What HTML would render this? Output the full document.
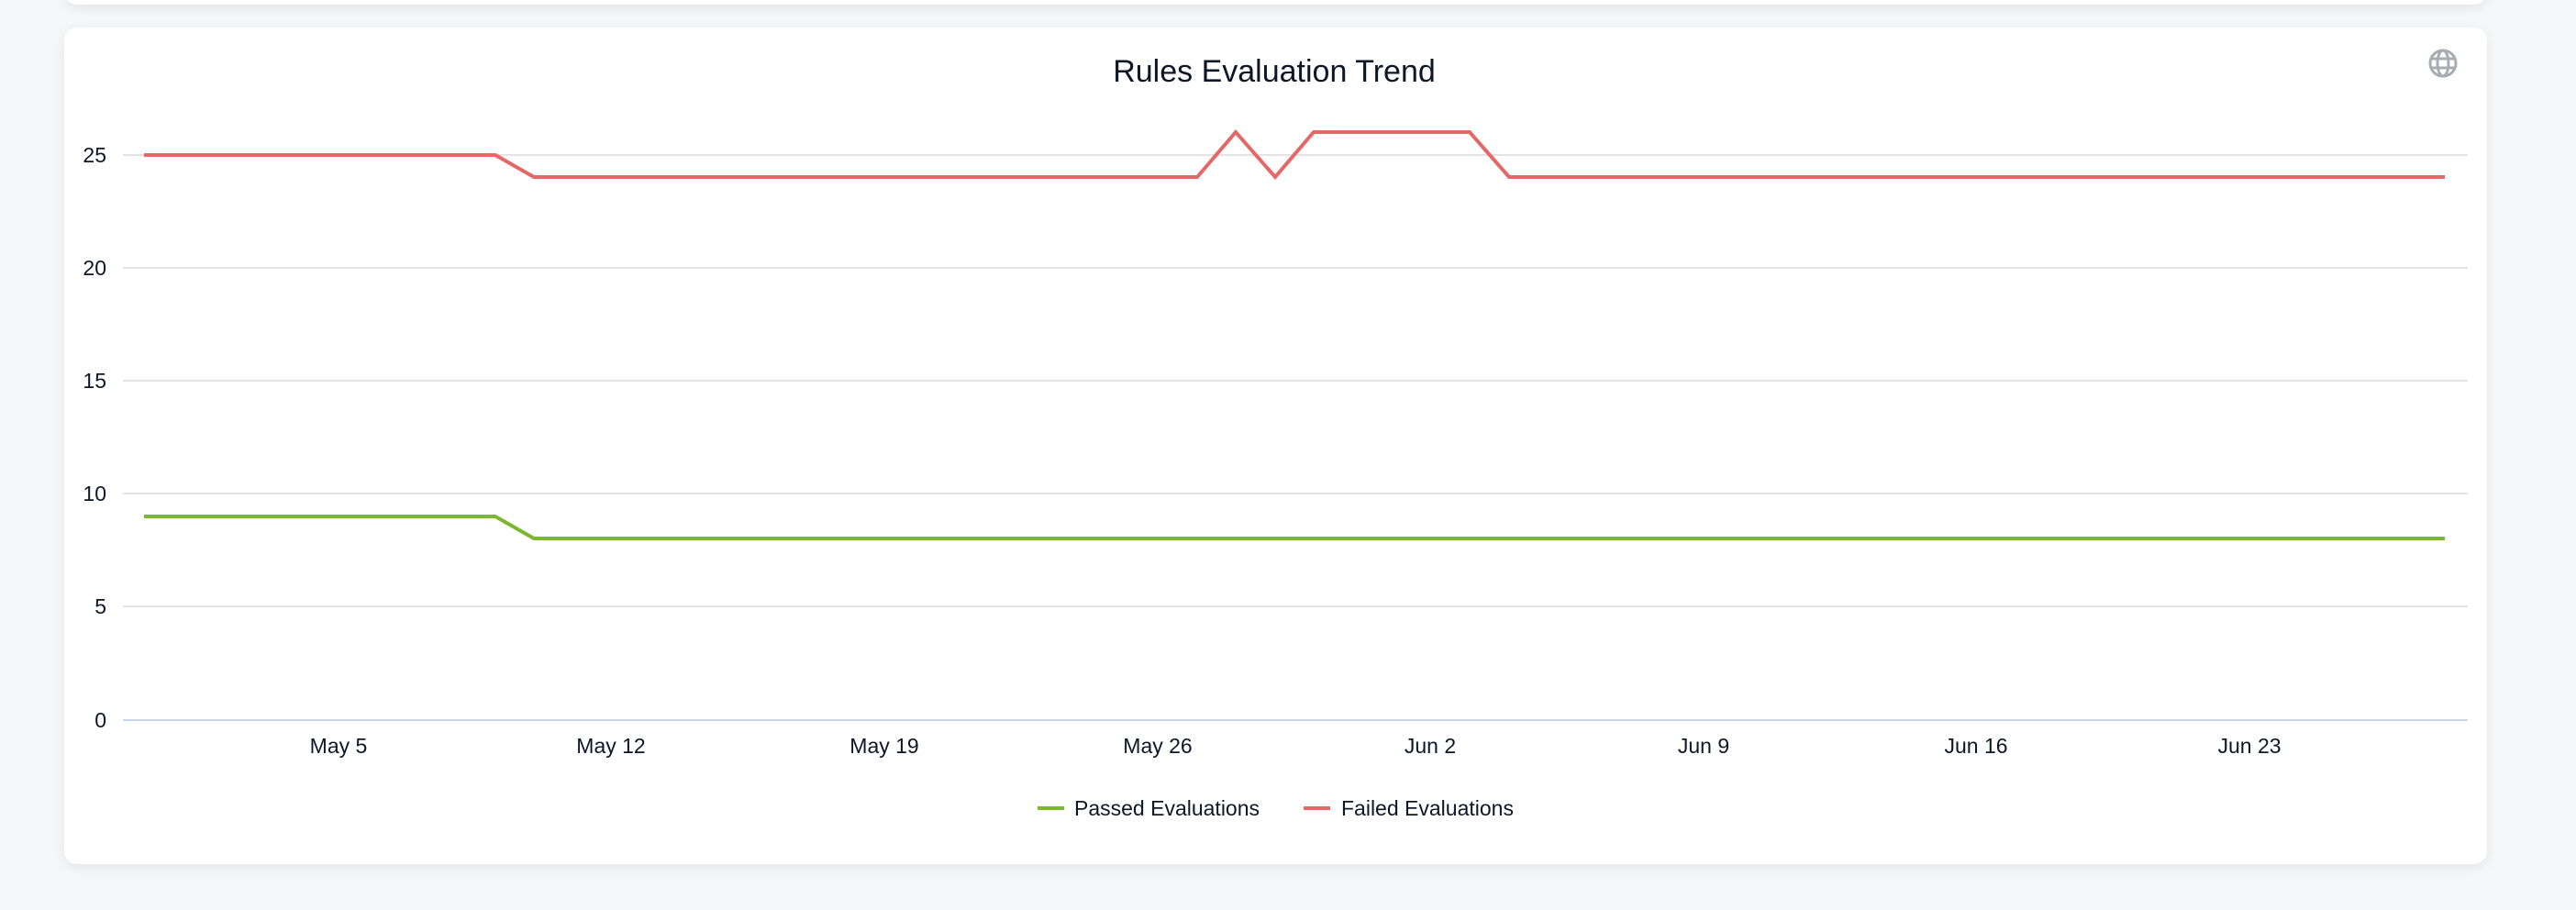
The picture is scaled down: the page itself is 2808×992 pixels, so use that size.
<!DOCTYPE html>
<html><head><meta charset="utf-8"><style>
html,body{margin:0;padding:0;width:2808px;height:992px;background:#f6f7f9;overflow:hidden;font-family:"Liberation Sans",sans-serif;}
.card{position:absolute;background:#fff;border-radius:14px;box-shadow:0 4px 14px rgba(0,0,0,0.08);}
</style></head><body>
<div class="card" style="left:70px;top:-30px;width:2641px;height:35px;"></div>
<div class="card" style="left:70px;top:30px;width:2641px;height:912px;"></div>
<svg width="2808" height="992" style="position:absolute;left:0;top:0" font-family="Liberation Sans, sans-serif">
<text x="1389" y="89" font-size="34" text-anchor="middle" fill="#0e1726">Rules Evaluation Trend</text>
<g stroke="#a9adb3" stroke-width="3" fill="none">
<circle cx="2663" cy="69" r="14"/>
<ellipse cx="2663" cy="69" rx="6" ry="14"/>
<line x1="2649" y1="64" x2="2677" y2="64"/><line x1="2649" y1="74" x2="2677" y2="74"/>
</g>
<g stroke="#e3e3e3" stroke-width="2">
<line x1="134" x2="2690" y1="169" y2="169"/>
<line x1="134" x2="2690" y1="292" y2="292"/>
<line x1="134" x2="2690" y1="415" y2="415"/>
<line x1="134" x2="2690" y1="538" y2="538"/>
<line x1="134" x2="2690" y1="661" y2="661"/>
</g>
<line x1="134" x2="2690" y1="785" y2="785" stroke="#ccd6eb" stroke-width="2"/>
<g font-size="23" fill="#0e1726" text-anchor="end">
<text x="116" y="177">25</text><text x="116" y="300">20</text><text x="116" y="423">15</text>
<text x="116" y="546">10</text><text x="116" y="669">5</text><text x="116" y="793">0</text>
</g>
<g font-size="23" fill="#0e1726" text-anchor="middle">
<text x="369" y="821">May 5</text><text x="666" y="821">May 12</text><text x="964" y="821">May 19</text>
<text x="1262" y="821">May 26</text><text x="1559" y="821">Jun 2</text><text x="1857" y="821">Jun 9</text>
<text x="2154" y="821">Jun 16</text><text x="2452" y="821">Jun 23</text>
</g>
<polyline fill="none" stroke="#e46868" stroke-width="4" stroke-linejoin="miter" points="157,169 539,169 582,193 1347,193 1347,193 1347,144 1347,144" style="display:none"/>
<polyline fill="none" stroke="#e46868" stroke-width="4" points="157,169 540,169 582,193 1305,193 1347,144 1390,193 1432,144 1602,144 1645,193 2665,193"/>
<polyline fill="none" stroke="#7cb82f" stroke-width="4" points="157,563 540,563 582,587 2665,587"/>
<line x1="1131" x2="1160" y1="881" y2="881" stroke="#7cb82f" stroke-width="4"/>
<text x="1171" y="889" font-size="23" fill="#0e1726">Passed Evaluations</text>
<line x1="1421" x2="1450" y1="881" y2="881" stroke="#e46868" stroke-width="4"/>
<text x="1462" y="889" font-size="23" fill="#0e1726">Failed Evaluations</text>
</svg>
</body></html>
